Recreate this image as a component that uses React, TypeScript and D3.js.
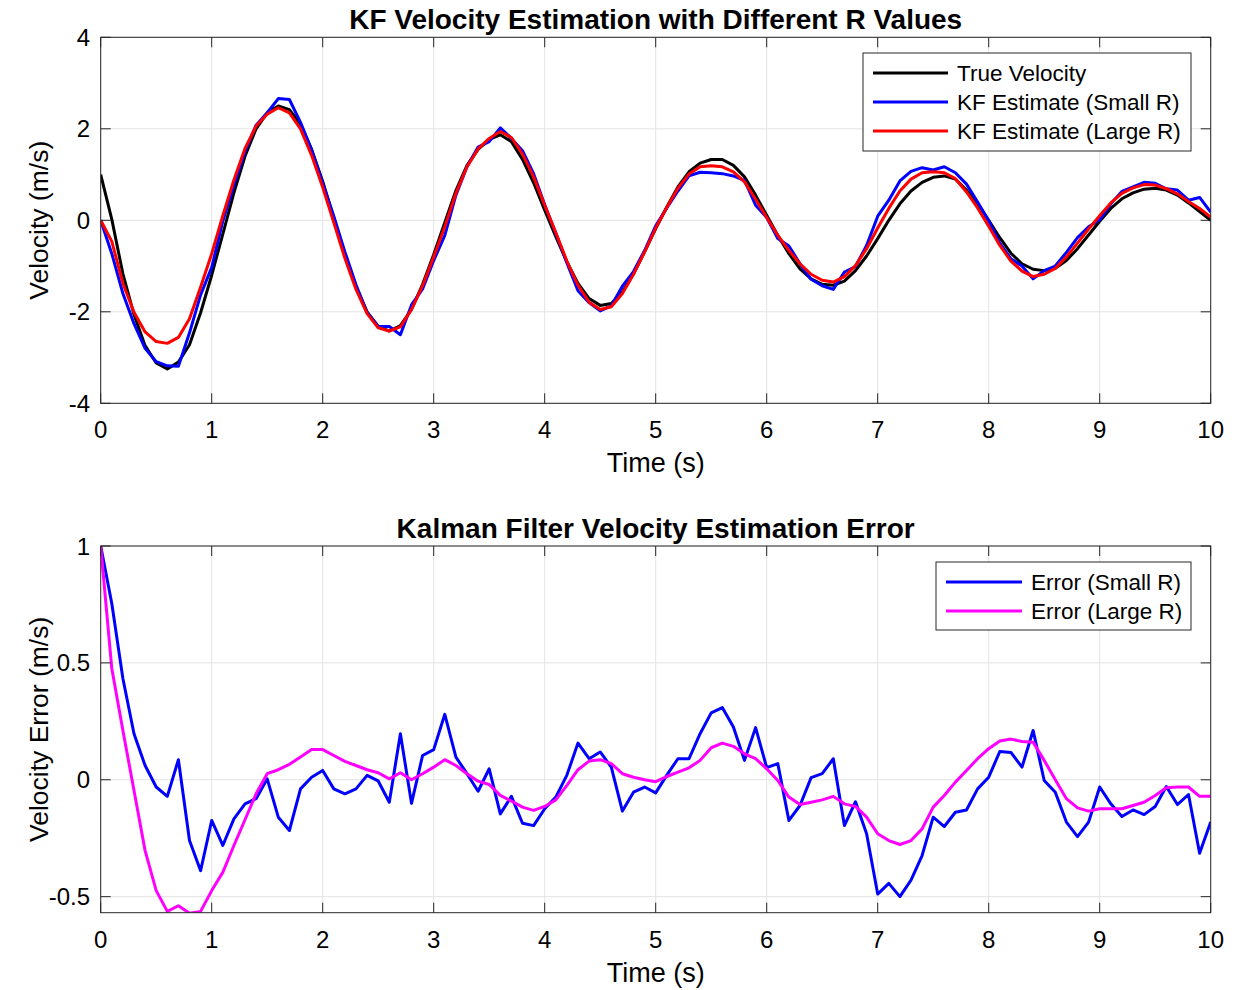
import React from "react";
import * as d3 from "d3";

// ---------- data (t = 0 : 0.1 : 10) ----------
const time: number[] = d3.range(0, 101).map((i) => i / 10);

const trueVelocity: number[] = [
  1.0, 0.02, -1.17, -2.06, -2.74, -3.12, -3.25, -3.10, -2.72, -2.02, -1.20,
  -0.30, 0.60, 1.40, 2.00, 2.35, 2.50, 2.42, 2.10, 1.55, 0.85,
  0.05, -0.75, -1.45, -2.00, -2.32, -2.42, -2.30, -1.95, -1.40, -0.75,
  -0.05, 0.65, 1.20, 1.55, 1.77, 1.87, 1.72, 1.33, 0.82, 0.22,
  -0.36, -0.91, -1.38, -1.71, -1.86, -1.82, -1.57, -1.17, -0.69, -0.18,
  0.29, 0.73, 1.06, 1.25, 1.33, 1.33, 1.20, 0.95, 0.55, 0.11,
  -0.33, -0.73, -1.06, -1.28, -1.40, -1.42, -1.33, -1.10, -0.78, -0.40,
  0.00, 0.36, 0.64, 0.83, 0.94, 0.97, 0.90, 0.66, 0.36, 0.00,
  -0.38, -0.72, -0.95, -1.07, -1.10, -1.05, -0.88, -0.62, -0.32, -0.02,
  0.26, 0.47, 0.60, 0.68, 0.70, 0.66, 0.55, 0.38, 0.19, 0.00,
];

const estimateSmallR: number[] = [
  0.00, -0.73, -1.60, -2.26, -2.80, -3.09, -3.18, -3.19, -2.46, -1.63, -1.03,
  -0.02, 0.77, 1.50, 2.08, 2.35, 2.66, 2.64, 2.14, 1.54, 0.81,
  0.09, -0.69, -1.41, -2.02, -2.32, -2.32, -2.50, -1.85, -1.50, -0.88,
  -0.33, 0.55, 1.17, 1.60, 1.72, 2.02, 1.79, 1.52, 1.02, 0.34,
  -0.29, -0.93, -1.54, -1.80, -1.98, -1.87, -1.44, -1.12, -0.66, -0.12,
  0.27, 0.64, 0.97, 1.05, 1.04, 1.02, 0.97, 0.87, 0.33, 0.06,
  -0.40, -0.56, -0.95, -1.29, -1.43, -1.51, -1.13, -1.01, -0.55, 0.09,
  0.44, 0.86, 1.07, 1.15, 1.10, 1.17, 1.04, 0.79, 0.40, -0.01,
  -0.50, -0.84, -1.00, -1.28, -1.10, -1.00, -0.70, -0.38, -0.14, 0.01,
  0.36, 0.63, 0.73, 0.83, 0.81, 0.69, 0.66, 0.44, 0.50, 0.18,
];

const estimateLargeR: number[] = [
  0.00, -0.46, -1.38, -2.01, -2.44, -2.65, -2.69, -2.56, -2.15, -1.46, -0.73,
  0.10, 0.88, 1.57, 2.06, 2.32, 2.46, 2.35, 2.00, 1.42, 0.72,
  -0.05, -0.83, -1.51, -2.04, -2.35, -2.42, -2.33, -1.95, -1.43, -0.80,
  -0.14, 0.59, 1.17, 1.56, 1.79, 1.94, 1.81, 1.45, 0.95, 0.33,
  -0.27, -0.89, -1.42, -1.79, -1.95, -1.89, -1.60, -1.18, -0.69, -0.17,
  0.28, 0.70, 1.01, 1.17, 1.19, 1.17, 1.06, 0.84, 0.46, 0.06,
  -0.33, -0.66, -0.95, -1.18, -1.31, -1.35, -1.23, -0.99, -0.62, -0.17,
  0.26, 0.64, 0.90, 1.04, 1.06, 1.04, 0.91, 0.62, 0.27, -0.13,
  -0.55, -0.89, -1.11, -1.23, -1.18, -1.05, -0.80, -0.50, -0.19, 0.10,
  0.38, 0.59, 0.71, 0.78, 0.77, 0.69, 0.58, 0.41, 0.26, 0.07,
];

const errorSmallR: number[] = [
  1.0, 0.754, 0.433, 0.197, 0.061, -0.031, -0.071, 0.086, -0.26, -0.389, -0.174,
  -0.281, -0.167, -0.103, -0.081, 0.004, -0.16, -0.217, -0.039, 0.011, 0.04,
  -0.039, -0.06, -0.039, 0.019, -0.005, -0.096, 0.197, -0.101, 0.104, 0.129,
  0.28, 0.097, 0.026, -0.049, 0.047, -0.146, -0.071, -0.186, -0.196, -0.124,
  -0.074, 0.02, 0.157, 0.09, 0.119, 0.054, -0.134, -0.053, -0.031, -0.056,
  0.02, 0.09, 0.09, 0.197, 0.286, 0.309, 0.226, 0.083, 0.223, 0.052,
  0.069, -0.174, -0.11, 0.009, 0.026, 0.09, -0.196, -0.094, -0.231, -0.489,
  -0.443, -0.5, -0.429, -0.324, -0.16, -0.2, -0.139, -0.129, -0.039, 0.011,
  0.121, 0.117, 0.054, 0.211, -0.003, -0.053, -0.181, -0.243, -0.181, -0.031,
  -0.103, -0.157, -0.129, -0.149, -0.114, -0.029, -0.106, -0.063, -0.314, -0.181,
];

const errorLargeR: number[] = [
  1.0, 0.476, 0.211, -0.046, -0.303, -0.474, -0.563, -0.539, -0.571, -0.563, -0.474,
  -0.396, -0.281, -0.171, -0.06, 0.026, 0.043, 0.066, 0.097, 0.129, 0.129,
  0.104, 0.079, 0.061, 0.043, 0.03, 0.004, 0.03, 0.0, 0.026, 0.054,
  0.086, 0.061, 0.026, -0.006, -0.02, -0.067, -0.091, -0.117, -0.131, -0.114,
  -0.086, -0.024, 0.043, 0.08, 0.086, 0.069, 0.026, 0.011, 0.0, -0.008,
  0.014, 0.033, 0.051, 0.083, 0.137, 0.157, 0.143, 0.111, 0.09, 0.047,
  -0.003, -0.074, -0.106, -0.096, -0.086, -0.071, -0.103, -0.114, -0.16, -0.231,
  -0.26, -0.277, -0.26, -0.21, -0.117, -0.067, -0.01, 0.04, 0.09, 0.133,
  0.166, 0.174, 0.164, 0.161, 0.083, 0.0, -0.081, -0.12, -0.134, -0.124,
  -0.124, -0.124, -0.11, -0.096, -0.067, -0.034, -0.031, -0.031, -0.071, -0.071,
];

const xTicks: number[] = [0, 1, 2, 3, 4, 5, 6, 7, 8, 9, 10];
const topYTicks: number[] = [-4, -2, 0, 2, 4];
const bottomYTicks: number[] = [-0.5, 0, 0.5, 1];
const bottomYTickLabels: string[] = ["-0.5", "0", "0.5", "1"];

const topLegend = ["True Velocity", "KF Estimate (Small R)", "KF Estimate (Large R)"];
const bottomLegend = ["Error (Small R)", "Error (Large R)"];

// ---------- styling ----------
const FONT = "'Liberation Sans', Arial, Helvetica, sans-serif";
const AXIS = "#262626";
const GRID = "#e3e3e3";
const LW = 3;
const TICK = 10;

const L = 100.7;
const R = 1210.7;

interface PanelProps {
  top: number;
  bottom: number;
  yDomain: [number, number];
  yTicks: number[];
  yTickLabels: string[];
  title: string;
  ylabel: string;
  series: { values: number[]; color: string }[];
  legend: { label: string; color: string }[];
  legendBox: { x: number; y: number; w: number; h: number; lineX1: number; lineX2: number; textX: number; rowY: number[] };
  id: string;
}

function Panel(p: PanelProps) {
  const x = d3.scaleLinear().domain([0, 10]).range([L, R]);
  const y = d3.scaleLinear().domain(p.yDomain).range([p.bottom, p.top]);
  const line = d3
    .line<number>()
    .x((_, i) => x(time[i]))
    .y((d) => y(d));
  const cx = (L + R) / 2;
  const cy = (p.top + p.bottom) / 2;
  return (
    <g>
      <defs>
        <clipPath id={p.id}>
          <rect x={L} y={p.top} width={R - L} height={p.bottom - p.top} />
        </clipPath>
      </defs>
      <rect x={L} y={p.top} width={R - L} height={p.bottom - p.top} fill="#fff" />
      {xTicks.map((t) => (
        <line key={"gx" + t} x1={x(t)} x2={x(t)} y1={p.top} y2={p.bottom} stroke={GRID} strokeWidth={1} />
      ))}
      {p.yTicks.map((t) => (
        <line key={"gy" + t} x1={L} x2={R} y1={y(t)} y2={y(t)} stroke={GRID} strokeWidth={1} />
      ))}
      <g clipPath={`url(#${p.id})`}>
        {p.series.map((s, i) => (
          <path key={i} d={line(s.values) || ""} fill="none" stroke={s.color} strokeWidth={LW} strokeLinejoin="round" />
        ))}
      </g>
      <rect x={L} y={p.top} width={R - L} height={p.bottom - p.top} fill="none" stroke={AXIS} strokeWidth={1} />
      {xTicks.map((t) => (
        <g key={"tx" + t}>
          <line x1={x(t)} x2={x(t)} y1={p.bottom} y2={p.bottom - TICK} stroke={AXIS} strokeWidth={1} />
          <line x1={x(t)} x2={x(t)} y1={p.top} y2={p.top + TICK} stroke={AXIS} strokeWidth={1} />
          <text x={x(t)} y={p.bottom + 35} textAnchor="middle" fontFamily={FONT} fontSize={24} fill="#000">
            {String(t)}
          </text>
        </g>
      ))}
      {p.yTicks.map((t, i) => (
        <g key={"ty" + t}>
          <line x1={L} x2={L + TICK} y1={y(t)} y2={y(t)} stroke={AXIS} strokeWidth={1} />
          <line x1={R} x2={R - TICK} y1={y(t)} y2={y(t)} stroke={AXIS} strokeWidth={1} />
          <text x={90} y={y(t) + 8.5} textAnchor="end" fontFamily={FONT} fontSize={24} fill="#000">
            {p.yTickLabels[i]}
          </text>
        </g>
      ))}
      <text x={cx} y={p.top - 8.5} textAnchor="middle" fontFamily={FONT} fontSize={28} fontWeight="bold" fill="#000">
        {p.title}
      </text>
      <text x={cx} y={p.bottom + 69} textAnchor="middle" fontFamily={FONT} fontSize={27} fill="#000">
        Time (s)
      </text>
      <text
        transform={`translate(48,${cy}) rotate(-90)`}
        textAnchor="middle"
        fontFamily={FONT}
        fontSize={26.5}
        fill="#000"
      >
        {p.ylabel}
      </text>
      <rect
        x={p.legendBox.x}
        y={p.legendBox.y}
        width={p.legendBox.w}
        height={p.legendBox.h}
        fill="#fff"
        stroke={AXIS}
        strokeWidth={1}
      />
      {p.legend.map((e, i) => (
        <g key={"lg" + i}>
          <line
            x1={p.legendBox.lineX1}
            x2={p.legendBox.lineX2}
            y1={p.legendBox.rowY[i]}
            y2={p.legendBox.rowY[i]}
            stroke={e.color}
            strokeWidth={LW}
          />
          <text x={p.legendBox.textX} y={p.legendBox.rowY[i] + 8} fontFamily={FONT} fontSize={22.5} fill="#000">
            {e.label}
          </text>
        </g>
      ))}
    </g>
  );
}

export default function App() {
  return (
    <svg
      width={1234}
      height={990}
      viewBox="0 0 1234 990"
      style={{ position: "absolute", left: 0, top: 0, background: "#fff" }}
    >
      <rect x={0} y={0} width={1234} height={990} fill="#fff" />
      <Panel
        id="clipTop"
        top={37.3}
        bottom={403.3}
        yDomain={[-4, 4]}
        yTicks={topYTicks}
        yTickLabels={topYTicks.map(String)}
        title="KF Velocity Estimation with Different R Values"
        ylabel="Velocity (m/s)"
        series={[
          { values: trueVelocity, color: "#000000" },
          { values: estimateSmallR, color: "#0000ff" },
          { values: estimateLargeR, color: "#ff0000" },
        ]}
        legend={[
          { label: topLegend[0], color: "#000000" },
          { label: topLegend[1], color: "#0000ff" },
          { label: topLegend[2], color: "#ff0000" },
        ]}
        legendBox={{ x: 863, y: 53, w: 328, h: 98, lineX1: 873, lineX2: 948, textX: 957, rowY: [73, 102, 131] }}
      />
      <Panel
        id="clipBottom"
        top={546}
        bottom={912.7}
        yDomain={[-0.5686, 1]}
        yTicks={bottomYTicks}
        yTickLabels={bottomYTickLabels}
        title="Kalman Filter Velocity Estimation Error"
        ylabel="Velocity Error (m/s)"
        series={[
          { values: errorSmallR, color: "#0000ff" },
          { values: errorLargeR, color: "#ff00ff" },
        ]}
        legend={[
          { label: bottomLegend[0], color: "#0000ff" },
          { label: bottomLegend[1], color: "#ff00ff" },
        ]}
        legendBox={{ x: 936, y: 562, w: 255, h: 68, lineX1: 946, lineX2: 1022, textX: 1031, rowY: [582, 611] }}
      />
    </svg>
  );
}
